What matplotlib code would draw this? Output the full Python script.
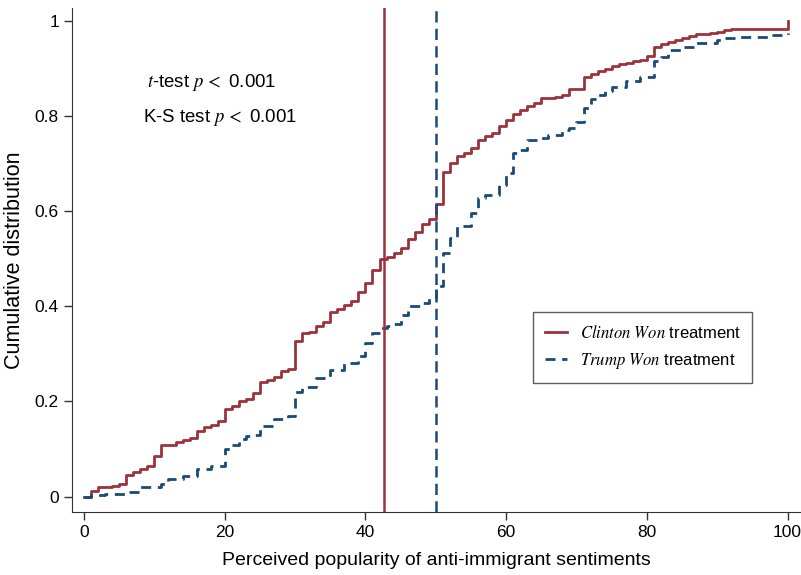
import numpy as np
import matplotlib
matplotlib.use("Agg")
import matplotlib.pyplot as plt

plt.rcParams['font.family'] = ['Liberation Sans', 'DejaVu Sans']
plt.rcParams['mathtext.fontset'] = 'stix'

# Clinton Won treatment: step positions and cumulative values
clinton_x = [0, 1, 2, 4, 5, 6, 7, 8, 9, 10, 11, 13, 14, 15, 16, 17, 18, 19, 20,
             21, 22, 23, 24, 25, 26, 27, 28, 29, 30, 31, 32, 33, 34, 35, 36, 37,
             38, 39, 40, 41, 42, 43, 44, 45, 46, 47, 48, 49, 50, 51, 52, 53, 54,
             55, 56, 57, 58, 59, 60, 61, 62, 63, 64, 65, 67, 68, 69, 71, 72, 73,
             74, 75, 76, 77, 78, 79, 80, 81, 82, 83, 84, 85, 86, 87, 89, 90, 91,
             92, 100]
clinton_y = [0.0, 0.012, 0.020, 0.023, 0.027, 0.046, 0.051, 0.057, 0.064, 0.085,
             0.109, 0.114, 0.118, 0.123, 0.137, 0.146, 0.150, 0.158, 0.183, 0.191,
             0.200, 0.204, 0.218, 0.240, 0.246, 0.251, 0.263, 0.268, 0.328, 0.344,
             0.346, 0.358, 0.367, 0.389, 0.395, 0.403, 0.412, 0.430, 0.449, 0.477,
             0.499, 0.504, 0.513, 0.522, 0.542, 0.557, 0.574, 0.584, 0.616, 0.683,
             0.701, 0.715, 0.723, 0.733, 0.750, 0.757, 0.764, 0.779, 0.791, 0.805,
             0.813, 0.821, 0.827, 0.838, 0.840, 0.845, 0.857, 0.882, 0.889, 0.894,
             0.899, 0.905, 0.909, 0.911, 0.915, 0.918, 0.927, 0.945, 0.951, 0.955,
             0.960, 0.965, 0.968, 0.972, 0.974, 0.976, 0.980, 0.982, 1.0]

# Trump Won treatment
trump_x = [0, 1, 3, 6, 8, 11, 12, 14, 16, 18, 20, 21, 22, 23, 24, 25, 27, 29, 30,
           31, 33, 35, 37, 39, 40, 41, 42, 43, 44, 45, 46, 48, 49, 50, 51, 52, 53,
           55, 56, 57, 59, 60, 61, 62, 63, 65, 66, 68, 69, 70, 71, 72, 73, 74, 75,
           77, 79, 81, 82, 83, 85, 87, 90, 91, 93, 95, 98, 100]
trump_y = [0.0, 0.003, 0.005, 0.009, 0.020, 0.027, 0.036, 0.043, 0.057, 0.064,
           0.099, 0.109, 0.120, 0.127, 0.130, 0.149, 0.162, 0.170, 0.219, 0.230,
           0.249, 0.267, 0.281, 0.295, 0.323, 0.344, 0.354, 0.359, 0.363, 0.381,
           0.400, 0.407, 0.417, 0.442, 0.512, 0.543, 0.568, 0.596, 0.627, 0.634,
           0.655, 0.680, 0.722, 0.728, 0.749, 0.754, 0.761, 0.771, 0.775, 0.788,
           0.816, 0.835, 0.845, 0.853, 0.860, 0.873, 0.883, 0.915, 0.925, 0.939,
           0.946, 0.953, 0.960, 0.963, 0.966, 0.967, 0.971, 0.975]

clinton_mean = 42.6
trump_mean = 50.1

red = '#9C323B'
blue = '#1C4A78'

fig = plt.figure(figsize=(8.01, 5.75), dpi=100)
ax = fig.add_axes([0.09, 0.11, 0.909, 0.876])

ax.step(clinton_x, clinton_y, where='post', color=red, lw=2.0,
        label=r'$\mathit{Clinton\ Won}$ treatment')
ax.step(trump_x, trump_y, where='post', color=blue, lw=2.0,
        linestyle=(0, (3.6, 2.4)), label=r'$\mathit{Trump\ Won}$ treatment')
ax.axvline(clinton_mean, color=red, lw=1.8)
ax.axvline(trump_mean, color=blue, lw=1.8, linestyle=(0, (4.5, 2.5)))

ax.text(9.0, 0.87, r'$t$-test $p\,<$ 0.001', fontsize=13.4, va='center', ha='left')
ax.text(8.4, 0.796, r'K-S test $p\,<$ 0.001', fontsize=13.4, va='center', ha='left')

ax.set_xlim(-1.7, 101.8)
ax.set_ylim(-0.032, 1.027)
ax.set_xticks([0, 20, 40, 60, 80, 100])
ax.set_yticks([0, 0.2, 0.4, 0.6, 0.8, 1])
ax.set_yticklabels(['0', '0.2', '0.4', '0.6', '0.8', '1'])
ax.tick_params(labelsize=12.5, length=6, width=1, colors='#333333', labelcolor='black')
for s in ['top', 'right']:
    ax.spines[s].set_visible(False)
for s in ['left', 'bottom']:
    ax.spines[s].set_color('#333333')

ax.set_xlabel('Perceived popularity of anti-immigrant sentiments', fontsize=14, labelpad=9)
ax.set_ylabel('Cumulative distribution', fontsize=15.5, labelpad=7)

leg = ax.legend(loc='upper left', bbox_to_anchor=(533 / 801, 1 - 312 / 575),
                bbox_transform=fig.transFigure, fontsize=12, frameon=True,
                fancybox=False, edgecolor='#333333', handlelength=1.35,
                handletextpad=0.75, borderpad=0.7, labelspacing=0.62,
                borderaxespad=0)
leg.get_frame().set_linewidth(1.0)

fig.savefig('out.png', dpi=100)
